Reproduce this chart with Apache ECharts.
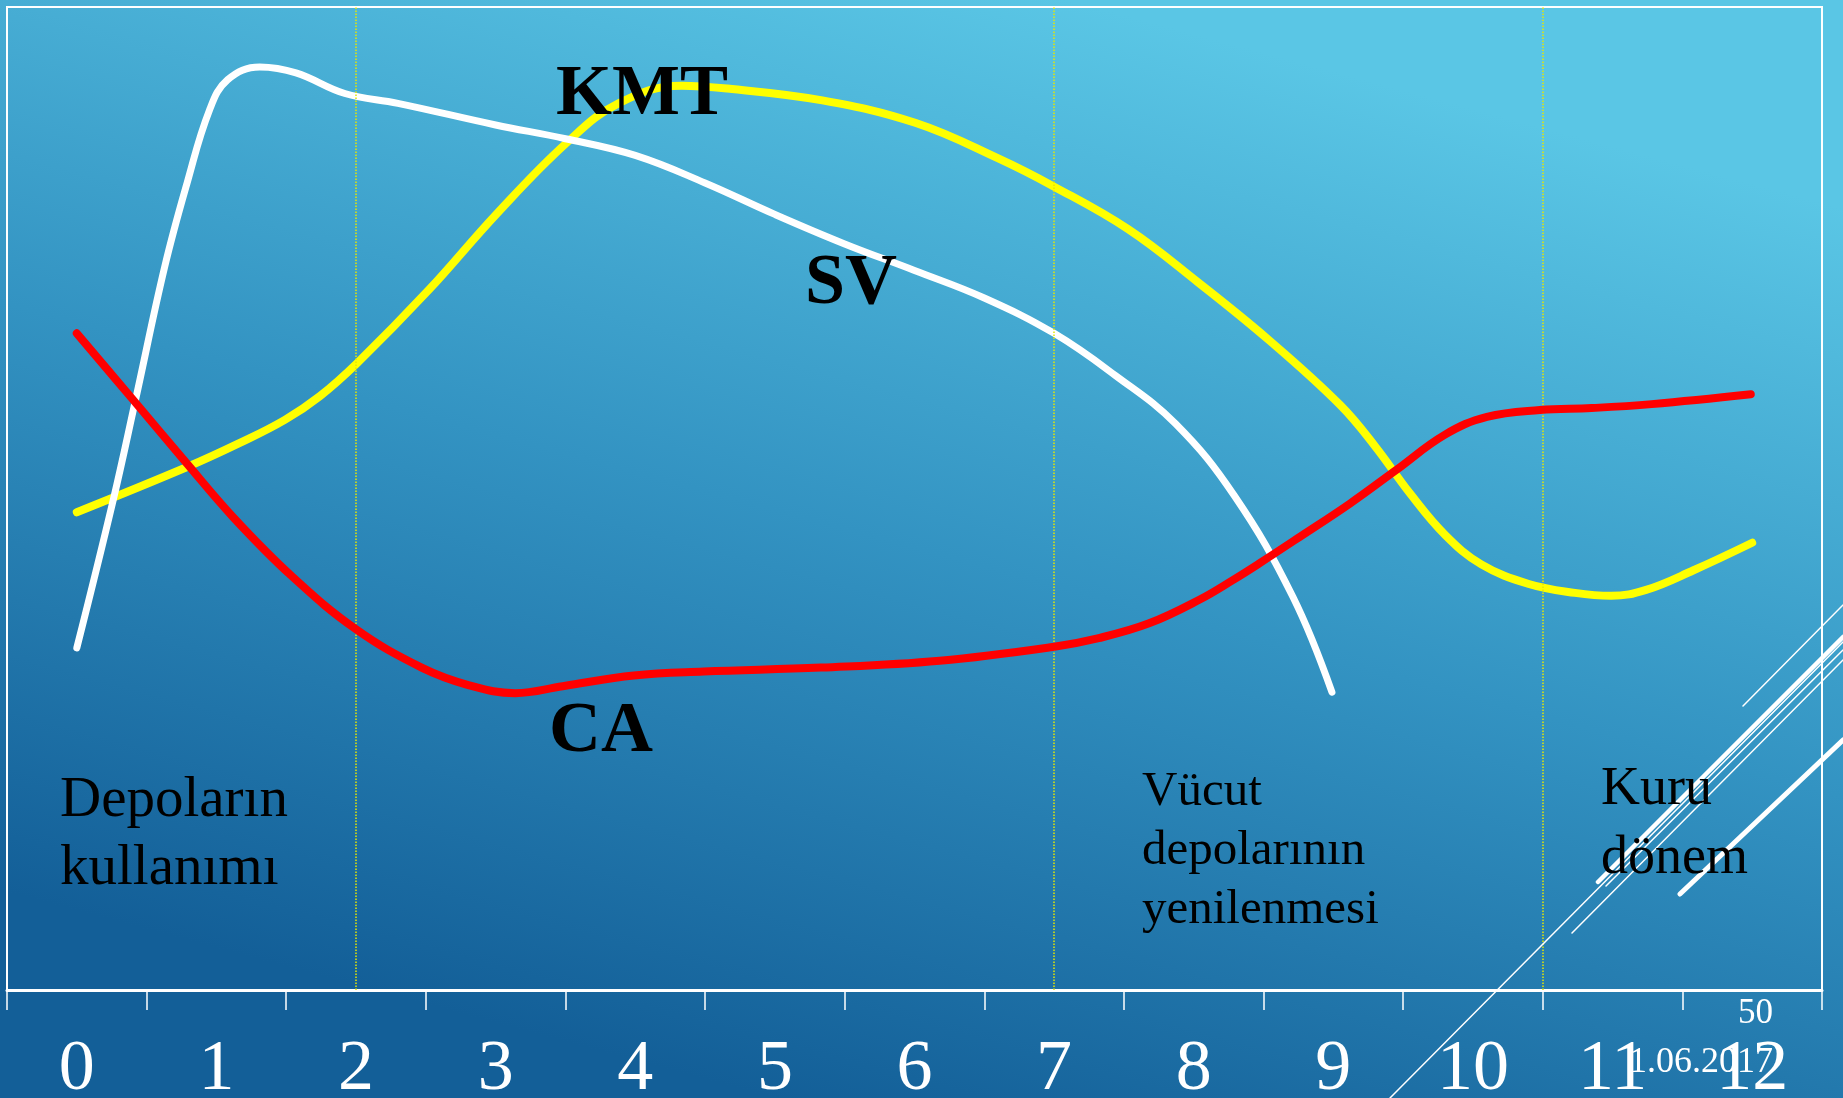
<!DOCTYPE html>
<html>
<head>
<meta charset="utf-8">
<script src="https://cdn.jsdelivr.net/npm/echarts@6/dist/echarts.min.js"></script>
<style>
  html, body { margin: 0; padding: 0; background: #2a86b8; }
  #chart { width: 1843px; height: 1098px; }
</style>
</head>
<body>
<div id="chart"></div>
<script>
// Tick labels (months)
const categories = ['0','1','2','3','4','5','6','7','8','9','10','11','12'];

// CA (red) curve
const caX = [0.0, 0.40, 0.78, 1.12, 1.54, 2.0, 2.47, 2.81, 3.14, 3.48, 3.99, 4.49, 5.33, 6.18, 6.99, 7.32, 7.68, 8.04, 8.28, 8.47, 8.76, 9.12, 9.45, 9.8, 10.1, 10.48, 10.85, 11.28, 11.99];
const caY = [66.8, 60.1, 53.7, 48.1, 42.1, 36.7, 32.8, 31.0, 30.2, 30.9, 32.0, 32.4, 32.8, 33.5, 34.9, 35.8, 37.3, 39.7, 41.7, 43.4, 46.1, 49.5, 52.9, 56.5, 58.3, 59.0, 59.2, 59.6, 60.6];

// SV (white) curve
const svX = [0.0, 0.26, 0.42, 0.63, 0.79, 0.95, 1.08, 1.31, 1.57, 1.92, 2.3, 3.0, 3.5, 4.0, 4.5, 5.0, 5.5, 6.0, 6.5, 7.0, 7.44, 7.87, 8.29, 8.71, 8.99];
const svY = [34.8, 49.8, 60.0, 73.6, 82.1, 89.5, 92.6, 93.9, 93.3, 91.2, 90.2, 88.0, 86.6, 84.9, 82.1, 78.9, 75.9, 73.2, 70.4, 66.8, 62.5, 57.6, 50.3, 40.0, 30.3];

// KMT (yellow) curve
const kmtX = [0.0, 0.79, 1.16, 1.49, 1.74, 2.01, 2.52, 3.01, 3.51, 3.88, 4.33, 4.66, 5.34, 6.01, 6.60, 6.99, 7.53, 8.03, 8.54, 9.05, 9.30, 9.55, 9.80, 10.06, 10.40, 10.73, 10.99, 11.24, 11.58, 12.0];
const kmtY = [48.6, 53.2, 55.6, 58.0, 60.4, 63.8, 71.2, 79.0, 86.2, 90.2, 92.0, 91.7, 90.5, 88.2, 84.6, 81.8, 77.4, 72.0, 66.1, 59.5, 55.3, 50.5, 46.3, 43.3, 41.3, 40.4, 40.1, 40.7, 42.7, 45.5];

// Period separators (dotted lines)
const periodLines = [2, 7, 10.5];

const zip = (xs, ys) => xs.map((x, i) => [x, ys[i]]);

const chart = echarts.init(document.getElementById('chart'), null, { renderer: 'canvas' });

const serif = "'Liberation Serif', 'Times New Roman', serif";

function txt(text, x, y, size, bold, lineHeight, align, color) {
  return {
    type: 'text',
    x: x, y: y,
    z: 50,
    silent: true,
    style: {
      text: text,
      fill: color || '#000',
      font: (bold ? 'bold ' : '') + size + 'px ' + serif,
      lineHeight: lineHeight || size,
      align: align || 'left',
      verticalAlign: 'top'
    }
  };
}
function deco(x1, y1, x2, y2, w) {
  return {
    type: 'line', z: 40, silent: true,
    shape: { x1: x1, y1: y1, x2: x2, y2: y2 },
    style: { stroke: '#ffffff', lineWidth: w, lineCap: 'round' }
  };
}

const option = {
  animation: false,
  backgroundColor: new echarts.graphic.LinearGradient(0.42, 1, 0.58, 0, [
    { offset: 0, color: '#135f98' },
    { offset: 0.5, color: '#3393c2' },
    { offset: 1, color: '#5ac6e5' }
  ]),
  grid: {
    left: 7, right: 21, top: 7, bottom: 108,
    containLabel: false,
    outerBoundsMode: 'none',
    show: true, borderColor: '#ffffff', borderWidth: 2,
    backgroundColor: 'transparent'
  },
  xAxis: [
    {
      type: 'category',
      data: categories,
      boundaryGap: true,
      axisLine: { show: true, lineStyle: { color: '#ffffff', width: 3 } },
      axisTick: { show: true, length: 20, interval: 0, lineStyle: { color: '#ffffff', width: 1.5 } },
      axisLabel: {
        interval: 0, color: '#ffffff', fontFamily: serif, fontSize: 72, margin: 44,
        hideOverlap: false
      },
      splitLine: { show: false }
    },
    {
      type: 'value', min: -0.5, max: 12.5, show: false
    }
  ],
  yAxis: { type: 'value', min: 0, max: 100, show: false },
  series: [
    {
      name: 'KMT', type: 'line', xAxisIndex: 1, smooth: 0.4, symbol: 'none',
      data: zip(kmtX, kmtY),
      lineStyle: { color: '#ffff00', width: 8, cap: 'round', join: 'round' },
      z: 3,
      markLine: {
        silent: true, symbol: 'none',
        label: { show: false },
        lineStyle: { color: '#e8e800', type: 'dotted', width: 1.5 },
        data: periodLines.map(v => ({ xAxis: v }))
      }
    },
    {
      name: 'SV', type: 'line', xAxisIndex: 1, smooth: 0.4, symbol: 'none',
      data: zip(svX, svY),
      lineStyle: { color: '#ffffff', width: 7, cap: 'round', join: 'round' },
      z: 4
    },
    {
      name: 'CA', type: 'line', xAxisIndex: 1, smooth: 0.4, symbol: 'none',
      data: zip(caX, caY),
      lineStyle: { color: '#ff0000', width: 8, cap: 'round', join: 'round' },
      z: 5
    }
  ],
  graphic: [
    txt('KMT', 556, 59, 72, true),
    txt('SV', 805, 248, 72, true),
    txt('CA', 549, 696, 72, true),
    txt('Depoların\nkullanımı', 60, 767, 57, false, 68),
    txt('Vücut\ndepolarının\nyenilenmesi', 1142, 763, 49, false, 59),
    txt('Kuru\ndönem', 1601, 755, 54, false, 69),
    deco(1390, 1098, 1843, 642, 1.5),
    deco(1572, 933, 1843, 660, 1.5),
    deco(1598, 882, 1843, 637, 4.5),
    deco(1606, 886, 1843, 650, 1.5),
    deco(1743, 706, 1843, 605, 1.5),
    deco(1680, 894, 1843, 740, 5),
    txt('50', 1773, 996, 35, false, 35, 'right', '#ffffff'),
    txt('1.06.2017', 1773, 1045, 36, false, 36, 'right', '#ffffff')
  ]
};

chart.setOption(option);
</script>
</body>
</html>
